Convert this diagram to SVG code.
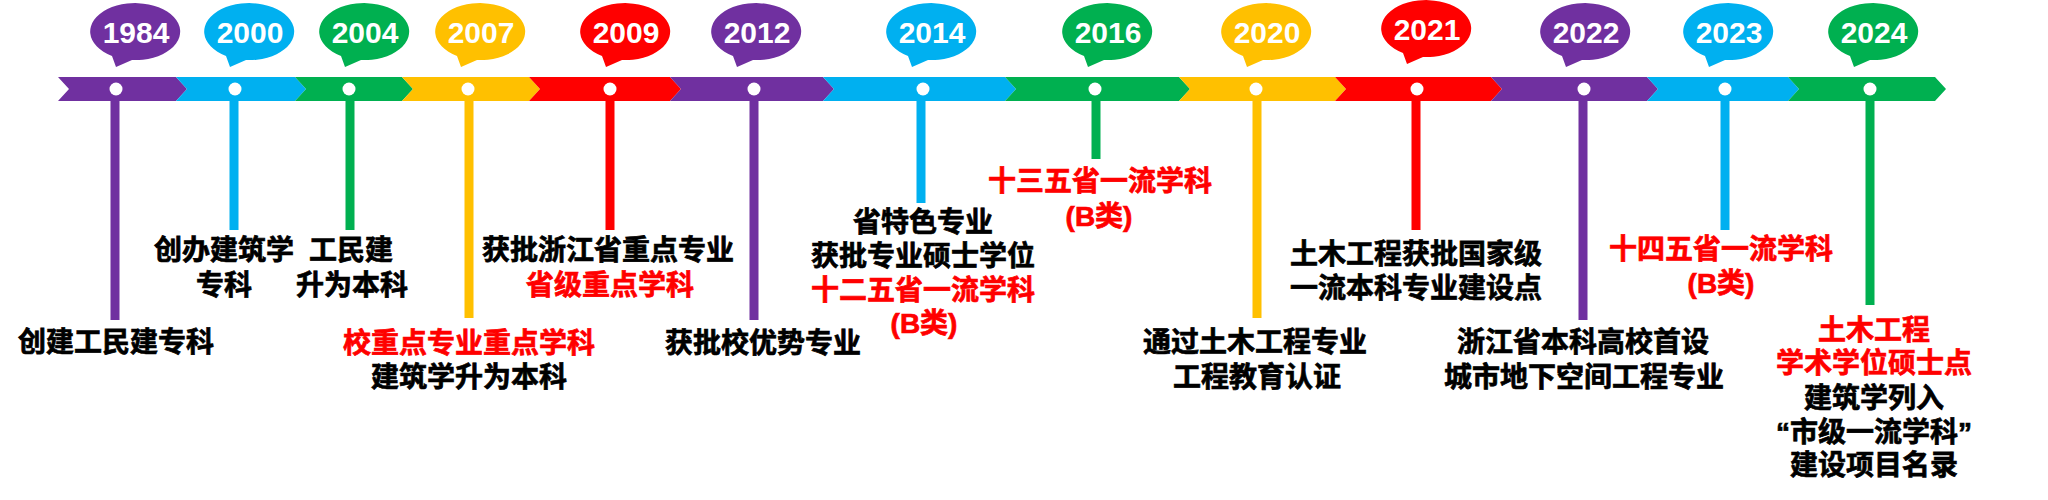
<svg xmlns="http://www.w3.org/2000/svg" xmlns:xlink="http://www.w3.org/1999/xlink" width="2048" height="500" viewBox="0 0 2048 500">
<style>
.pu{fill:#7030A0}.bl{fill:#00B0F0}.gr{fill:#00B050}.ye{fill:#FFC000}.rd{fill:#FF0000}
.lpu{stroke:#7030A0}.lbl{stroke:#00B0F0}.lgr{stroke:#00B050}.lye{stroke:#FFC000}.lrd{stroke:#FF0000}
.stem{stroke-width:9;fill:none}
.yr{font-family:"Liberation Sans",Arial,sans-serif;font-weight:700;font-size:30px;fill:#fff;text-anchor:middle}
.t{font-family:"Liberation Sans","Noto Sans CJK SC",sans-serif;font-weight:700;font-size:28px;fill:#000;stroke:#000;stroke-width:0.7px;text-anchor:middle}
.t.r{fill:#FF0000;stroke:#FF0000}
.dot{fill:#fff}
</style>
<defs>
<path id="bub" d="M -24 24 A 45 28.5 0 1 1 -4 28 L -20 35 Z"/>
</defs>
<rect width="2048" height="500" fill="#fff"/>
<g id="band">
<polygon class="pu" points="58,77 176,77 187,89 176,101 58,101 69,89"/>
<polygon class="bl" points="176,77 295,77 306,89 295,101 176,101 187,89"/>
<polygon class="gr" points="295,77 402,77 413,89 402,101 295,101 306,89"/>
<polygon class="ye" points="402,77 529,77 540,89 529,101 402,101 413,89"/>
<polygon class="rd" points="529,77 670,77 681,89 670,101 529,101 540,89"/>
<polygon class="pu" points="670,77 823,77 834,89 823,101 670,101 681,89"/>
<polygon class="bl" points="823,77 1005,77 1016,89 1005,101 823,101 834,89"/>
<polygon class="gr" points="1005,77 1179,77 1190,89 1179,101 1005,101 1016,89"/>
<polygon class="ye" points="1179,77 1335,77 1346,89 1335,101 1179,101 1190,89"/>
<polygon class="rd" points="1335,77 1491,77 1502,89 1491,101 1335,101 1346,89"/>
<polygon class="pu" points="1491,77 1647,77 1658,89 1647,101 1491,101 1502,89"/>
<polygon class="bl" points="1647,77 1788,77 1799,89 1788,101 1647,101 1658,89"/>
<polygon class="gr" points="1788,77 1935,77 1946,89 1935,101 1788,101 1799,89"/>
</g>
<g id="connectors">
<line class="stem lpu" x1="115" y1="100" x2="115" y2="320"/>
<line class="stem lbl" x1="234" y1="100" x2="234" y2="230"/>
<line class="stem lgr" x1="350" y1="100" x2="350" y2="230"/>
<line class="stem lye" x1="469" y1="100" x2="469" y2="318"/>
<line class="stem lrd" x1="610" y1="100" x2="610" y2="230"/>
<line class="stem lpu" x1="754" y1="100" x2="754" y2="320"/>
<line class="stem lbl" x1="921" y1="100" x2="921" y2="203"/>
<line class="stem lgr" x1="1096" y1="100" x2="1096" y2="159"/>
<line class="stem lye" x1="1257" y1="100" x2="1257" y2="318"/>
<line class="stem lrd" x1="1416" y1="100" x2="1416" y2="230"/>
<line class="stem lpu" x1="1583" y1="100" x2="1583" y2="320"/>
<line class="stem lbl" x1="1725" y1="100" x2="1725" y2="230"/>
<line class="stem lgr" x1="1870" y1="100" x2="1870" y2="305"/>
</g>
<g id="n1984">
<use xlink:href="#bub" class="pu" transform="translate(136,32)"/>
<text class="yr" x="136" y="43">1984</text>
<circle class="dot" cx="116" cy="89" r="6.5"/>
<text class="t" x="116" y="352">创建工民建专科</text>
</g>
<g id="n2000">
<use xlink:href="#bub" class="bl" transform="translate(250,32)"/>
<text class="yr" x="250" y="43">2000</text>
<circle class="dot" cx="235" cy="89" r="6.5"/>
<text class="t" x="224" y="260">创办建筑学</text>
<text class="t" x="224" y="295">专科</text>
</g>
<g id="n2004">
<use xlink:href="#bub" class="gr" transform="translate(365,32)"/>
<text class="yr" x="365" y="43">2004</text>
<circle class="dot" cx="349" cy="89" r="6.5"/>
<text class="t" x="351" y="260">工民建</text>
<text class="t" x="352" y="295">升为本科</text>
</g>
<g id="n2007">
<use xlink:href="#bub" class="ye" transform="translate(481,32)"/>
<text class="yr" x="481" y="43">2007</text>
<circle class="dot" cx="468" cy="89" r="6.5"/>
<text class="t r" x="469" y="353">校重点专业重点学科</text>
<text class="t" x="469" y="387">建筑学升为本科</text>
</g>
<g id="n2009">
<use xlink:href="#bub" class="rd" transform="translate(626,32)"/>
<text class="yr" x="626" y="43">2009</text>
<circle class="dot" cx="610" cy="89" r="6.5"/>
<text class="t" x="608" y="260">获批浙江省重点专业</text>
<text class="t r" x="610" y="295">省级重点学科</text>
</g>
<g id="n2012">
<use xlink:href="#bub" class="pu" transform="translate(757,32)"/>
<text class="yr" x="757" y="43">2012</text>
<circle class="dot" cx="754" cy="89" r="6.5"/>
<text class="t" x="763" y="353">获批校优势专业</text>
</g>
<g id="n2014">
<use xlink:href="#bub" class="bl" transform="translate(932,32)"/>
<text class="yr" x="932" y="43">2014</text>
<circle class="dot" cx="923" cy="89" r="6.5"/>
<text class="t" x="923" y="232">省特色专业</text>
<text class="t" x="923" y="266">获批专业硕士学位</text>
<text class="t r" x="923" y="300">十二五省一流学科</text>
<text class="t r" x="924" y="333">(B类)</text>
</g>
<g id="n2016">
<use xlink:href="#bub" class="gr" transform="translate(1108,32)"/>
<text class="yr" x="1108" y="43">2016</text>
<circle class="dot" cx="1095" cy="89" r="6.5"/>
<text class="t r" x="1100" y="191">十三五省一流学科</text>
<text class="t r" x="1099" y="226">(B类)</text>
</g>
<g id="n2020">
<use xlink:href="#bub" class="ye" transform="translate(1267,32)"/>
<text class="yr" x="1267" y="43">2020</text>
<circle class="dot" cx="1256" cy="89" r="6.5"/>
<text class="t" x="1255" y="352">通过土木工程专业</text>
<text class="t" x="1257" y="387">工程教育认证</text>
</g>
<g id="n2021">
<use xlink:href="#bub" class="rd" transform="translate(1427,29)"/>
<text class="yr" x="1427" y="40">2021</text>
<circle class="dot" cx="1417" cy="89" r="6.5"/>
<text class="t" x="1416" y="264">土木工程获批国家级</text>
<text class="t" x="1416" y="298">一流本科专业建设点</text>
</g>
<g id="n2022">
<use xlink:href="#bub" class="pu" transform="translate(1586,32)"/>
<text class="yr" x="1586" y="43">2022</text>
<circle class="dot" cx="1584" cy="89" r="6.5"/>
<text class="t" x="1583" y="352">浙江省本科高校首设</text>
<text class="t" x="1584" y="387">城市地下空间工程专业</text>
</g>
<g id="n2023">
<use xlink:href="#bub" class="bl" transform="translate(1729,32)"/>
<text class="yr" x="1729" y="43">2023</text>
<circle class="dot" cx="1725" cy="89" r="6.5"/>
<text class="t r" x="1721" y="259">十四五省一流学科</text>
<text class="t r" x="1721" y="293">(B类)</text>
</g>
<g id="n2024">
<use xlink:href="#bub" class="gr" transform="translate(1874,32)"/>
<text class="yr" x="1874" y="43">2024</text>
<circle class="dot" cx="1870" cy="89" r="6.5"/>
<text class="t r" x="1874" y="340">土木工程</text>
<text class="t r" x="1874" y="373">学术学位硕士点</text>
<text class="t" x="1874" y="408">建筑学列入</text>
<text class="t" x="1874" y="442">“市级一流学科”</text>
<text class="t" x="1874" y="475">建设项目名录</text>
</g>
</svg>
